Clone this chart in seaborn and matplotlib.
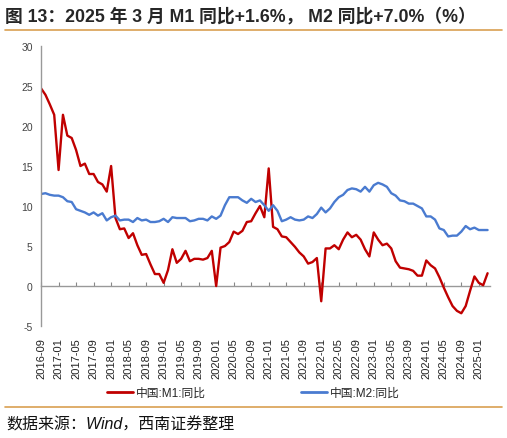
import seaborn as sns
import matplotlib.pyplot as plt
import pandas as pd
from matplotlib.lines import Line2D

sns.set_theme(style="white")
plt.rcParams["font.family"] = ["Liberation Sans", "Noto Sans CJK SC", "DejaVu Sans"]
plt.rcParams["axes.unicode_minus"] = False

months = pd.date_range("2016-09-01", "2025-03-01", freq="MS").strftime("%Y-%m").tolist()

m1_yoy = [
    24.7, 23.9, 22.7, 21.4,
    14.5, 21.4, 18.8, 18.5, 17.0, 15.0, 15.3, 14.0, 14.0, 13.0, 12.7, 11.8,
    15.0, 8.5, 7.1, 7.2, 6.0, 6.6, 5.1, 3.9, 4.0, 2.7, 1.5, 1.5,
    0.4, 2.0, 4.6, 2.9, 3.4, 4.4, 3.1, 3.4, 3.4, 3.3, 3.5, 4.4,
    0.0, 4.8, 5.0, 5.5, 6.8, 6.5, 6.9, 8.0, 8.1, 9.1, 10.0, 8.6,
    14.7, 7.4, 7.1, 6.2, 6.1, 5.5, 4.9, 4.2, 3.7, 2.8, 3.0, 3.5,
    -1.9, 4.7, 4.7, 5.1, 4.6, 5.8, 6.7, 6.1, 6.4, 5.8, 4.6, 3.7,
    6.7, 5.8, 5.1, 5.3, 4.7, 3.1, 2.3, 2.2, 2.1, 1.9, 1.3, 1.3,
    3.2, 2.6, 2.2, 1.1, -0.2, -1.4, -2.5, -3.1, -3.4, -2.5, -0.6, 1.2,
    0.4, 0.1, 1.6,
]

m2_yoy = [
    11.5, 11.6, 11.4, 11.3,
    11.3, 11.1, 10.6, 10.5, 9.6, 9.4, 9.2, 8.9, 9.2, 8.8, 9.1, 8.2,
    8.6, 8.8, 8.2, 8.3, 8.3, 8.0, 8.5, 8.2, 8.3, 8.0, 8.0, 8.1,
    8.4, 8.0, 8.6, 8.5, 8.5, 8.5, 8.1, 8.2, 8.4, 8.4, 8.2, 8.7,
    8.4, 8.8, 10.1, 11.1, 11.1, 11.1, 10.7, 10.4, 10.9, 10.5, 10.7, 10.1,
    9.4, 10.1, 9.4, 8.1, 8.3, 8.6, 8.3, 8.2, 8.3, 8.7, 8.5, 9.0,
    9.8, 9.2, 9.7, 10.5, 11.1, 11.4, 12.0, 12.2, 12.1, 11.8, 12.4, 11.8,
    12.6, 12.9, 12.7, 12.4, 11.6, 11.3, 10.7, 10.6, 10.3, 10.3, 10.0, 9.7,
    8.7, 8.7, 8.3, 7.2, 7.0, 6.2, 6.3, 6.3, 6.8, 7.5, 7.1, 7.3,
    7.0, 7.0, 7.0,
]

labels = ["中国:M1:同比", "中国:M2:同比"]
colors = ["#C00000", "#4A7BD0"]

df = pd.DataFrame({"月份": months, labels[0]: m1_yoy, labels[1]: m2_yoy})
df["pos"] = range(len(df))
long_df = df.melt(id_vars=["月份", "pos"], var_name="指标", value_name="同比")

fig = plt.figure(figsize=(5.07, 4.39), dpi=100)
ax = fig.add_axes([0.081, 0.255, 0.885, 0.638])

sns.lineplot(ax=ax, data=long_df, x="pos", y="同比", hue="指标",
             palette=dict(zip(labels, colors)), linewidth=1.7, legend=False)

ax.set_xlim(0, 102.5)
ax.set_ylim(-5, 30)
ax.set_yticks(range(-5, 31, 5))
ax.set_xlabel("")
ax.set_ylabel("")

tick_pos = list(range(0, len(months), 4))
ax.set_xticks(tick_pos)
ax.set_xticklabels([months[i] for i in tick_pos], rotation=90, fontsize=8, color="#222222")
ax.tick_params(axis="x", length=0, pad=8)
ax.tick_params(axis="y", direction="in", length=3, width=0.8, color="#888888",
               labelsize=7.5, labelcolor="#444444", pad=6)

for s in ["top", "right", "bottom"]:
    ax.spines[s].set_visible(False)
ax.spines["left"].set_color("#999999")
ax.spines["left"].set_linewidth(1.0)

# zero line with small upward ticks
zero = ax.secondary_xaxis(5 / 35)
zero.set_xticks(tick_pos)
zero.tick_params(axis="x", direction="in", length=3, width=0.8, color="#888888", labelbottom=False, labeltop=False)
zero.spines["bottom"].set_color("#999999")
zero.spines["bottom"].set_linewidth(1.0)
zero.spines["top"].set_color("#999999")
zero.spines["top"].set_linewidth(1.0)

handles = [Line2D([0], [0], color=c, lw=2) for c in colors]
fig.legend(handles, labels, loc="center", bbox_to_anchor=(0.5, 0.103), ncol=2,
           frameon=False, fontsize=8.5, handlelength=2.2, handletextpad=0.3, columnspacing=8)

fig.text(0.010, 0.962, "图 13：2025 年 3 月 M1 同比+1.6%， M2 同比+7.0%（%）",
         fontsize=12.8, fontweight="bold", va="center", ha="left")
fig.add_artist(Line2D([0.01, 0.99], [0.929, 0.929], color="#D9A052", lw=1.2))
fig.add_artist(Line2D([0.01, 0.99], [0.071, 0.071], color="#D9A052", lw=1.2))
fig.text(0.012, 0.032, "数据来源：Wind，西南证券整理", fontsize=11.5, style="italic",
         va="center", ha="left", color="#111111")

plt.savefig("out.png", dpi=100)
